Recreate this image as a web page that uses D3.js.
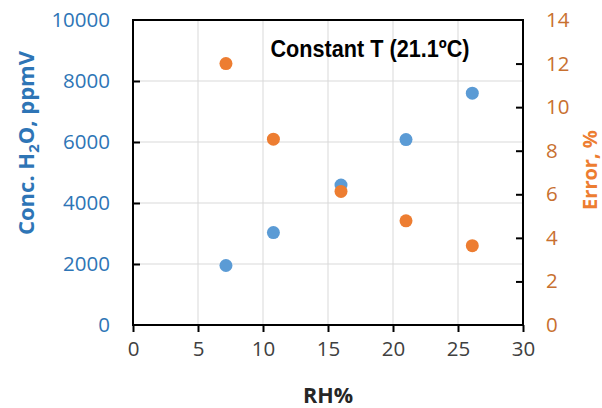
<!DOCTYPE html>
<html>
<head>
<meta charset="utf-8">
<script src="https://cdn.jsdelivr.net/npm/d3@7"></script>
<style>
  body { margin: 0; background: #fff; }
  svg { display: block; }
  text { font-family: 'Open Sans', 'Noto Sans', sans-serif; }
</style>
</head>
<body>
<div id="chart"></div>
<script>
// RH% for each measurement
const rh = [7.15, 10.8, 16.0, 21.0, 26.1];
// concentration, ppmV (left axis)
const conc = [1950, 3030, 4590, 6080, 7600];
// error, % (right axis)
const errorPct = [12.0, 8.53, 6.13, 4.78, 3.64];

const xTicks = [0, 5, 10, 15, 20, 25, 30];
const concTicks = [0, 2000, 4000, 6000, 8000, 10000];
const errTicks = [0, 2, 4, 6, 8, 10, 12, 14];

const width = 602, height = 408;
const margin = {top: 20, right: 79, bottom: 83, left: 133};

const blue = '#5b9bd5', orange = '#ed7d31';
const blueText = '#2e75b6', orangeText = '#c8702f';

const svg = d3.select('#chart').append('svg')
    .attr('width', width)
    .attr('height', height);

svg.append('rect').attr('width', width).attr('height', height).attr('fill', '#fff');

const x = d3.scaleLinear().domain([0, 30]).range([margin.left, width - margin.right]);
const yL = d3.scaleLinear().domain([0, 10000]).range([height - margin.bottom, margin.top]);
const yR = d3.scaleLinear().domain([0, 14]).range([height - margin.bottom, margin.top]);

// grid
svg.append('g').selectAll('line.v')
    .data(xTicks.slice(1, -1))
    .enter().append('line')
    .attr('x1', d => x(d)).attr('x2', d => x(d))
    .attr('y1', yL(0)).attr('y2', yL(10000))
    .attr('stroke', '#d9d9d9').attr('stroke-width', 1);
svg.append('g').selectAll('line.h')
    .data(concTicks.slice(1, -1))
    .enter().append('line')
    .attr('x1', x(0)).attr('x2', x(30))
    .attr('y1', d => yL(d)).attr('y2', d => yL(d))
    .attr('stroke', '#d9d9d9').attr('stroke-width', 1);

// axes
const fmt = d3.format('d');

const xAxis = svg.append('g')
    .attr('transform', `translate(0,${yL(0)})`)
    .call(d3.axisBottom(x).tickValues(xTicks).tickFormat(fmt).tickSize(7).tickPadding(9));
xAxis.selectAll('text').attr('fill', '#404040');

const leftAxis = svg.append('g')
    .attr('transform', `translate(${x(0)},0)`)
    .call(d3.axisLeft(yL).tickValues(concTicks).tickFormat(fmt).tickSize(-7).tickPadding(23));
leftAxis.selectAll('text').attr('fill', blueText);

const rightAxis = svg.append('g')
    .attr('transform', `translate(${x(30)},0)`)
    .call(d3.axisRight(yR).tickValues(errTicks).tickFormat(fmt).tickSize(-7).tickPadding(23));
rightAxis.selectAll('text').attr('fill', orangeText);

[xAxis, leftAxis, rightAxis].forEach(a => {
    a.attr('font-family', null).attr('font-size', null);
    a.selectAll('text').attr('font-size', 20.5);
    a.select('.domain').remove();
    a.selectAll('line').attr('stroke', '#000').attr('stroke-width', 2);
});
// hide ticks at the frame corners
leftAxis.selectAll('.tick').filter(d => d === 10000 || d === 0).select('line').remove();
rightAxis.selectAll('.tick').filter(d => d === 14 || d === 0).select('line').remove();

// plot frame
svg.append('rect')
    .attr('x', x(0)).attr('y', yL(10000))
    .attr('width', x(30) - x(0)).attr('height', yL(0) - yL(10000))
    .attr('fill', 'none').attr('stroke', '#000').attr('stroke-width', 2);

// points
svg.append('g').selectAll('circle')
    .data(rh.map((d, i) => [d, conc[i]]))
    .enter().append('circle')
    .attr('cx', d => x(d[0])).attr('cy', d => yL(d[1]))
    .attr('r', 6.5).attr('fill', blue);
svg.append('g').selectAll('circle')
    .data(rh.map((d, i) => [d, errorPct[i]]))
    .enter().append('circle')
    .attr('cx', d => x(d[0])).attr('cy', d => yR(d[1]))
    .attr('r', 6.5).attr('fill', orange);

// title (condensed like the original)
svg.append('text')
    .attr('x', 370).attr('y', 57)
    .attr('text-anchor', 'middle')
    .attr('fill', '#000')
    .attr('font-weight', 'bold')
    .attr('font-size', 24)
    .attr('textLength', 199)
    .attr('lengthAdjust', 'spacingAndGlyphs')
    .style('font-family', '"Liberation Sans", Arial, sans-serif')
    .text('Constant T (21.1ºC)');

// axis titles
svg.append('text')
    .attr('x', (x(0) + x(30)) / 2).attr('y', 403)
    .attr('text-anchor', 'middle')
    .attr('fill', '#262626')
    .attr('font-weight', 'bold')
    .attr('font-size', 21.5)
    .text('RH%');

const leftTitle = svg.append('text')
    .attr('transform', 'translate(34,143) rotate(-90)')
    .attr('text-anchor', 'middle')
    .attr('fill', blueText)
    .attr('font-weight', 'bold')
    .attr('font-size', 22);
leftTitle.append('tspan').text('Conc. H');
leftTitle.append('tspan').attr('dy', 5).attr('font-size', 15).text('2');
leftTitle.append('tspan').attr('dy', -5).text('O, ppmV');

svg.append('text')
    .attr('transform', 'translate(597,170) rotate(-90)')
    .attr('text-anchor', 'middle')
    .attr('fill', orange)
    .attr('font-weight', 'bold')
    .attr('font-size', 20)
    .text('Error, %');
</script>
</body>
</html>
